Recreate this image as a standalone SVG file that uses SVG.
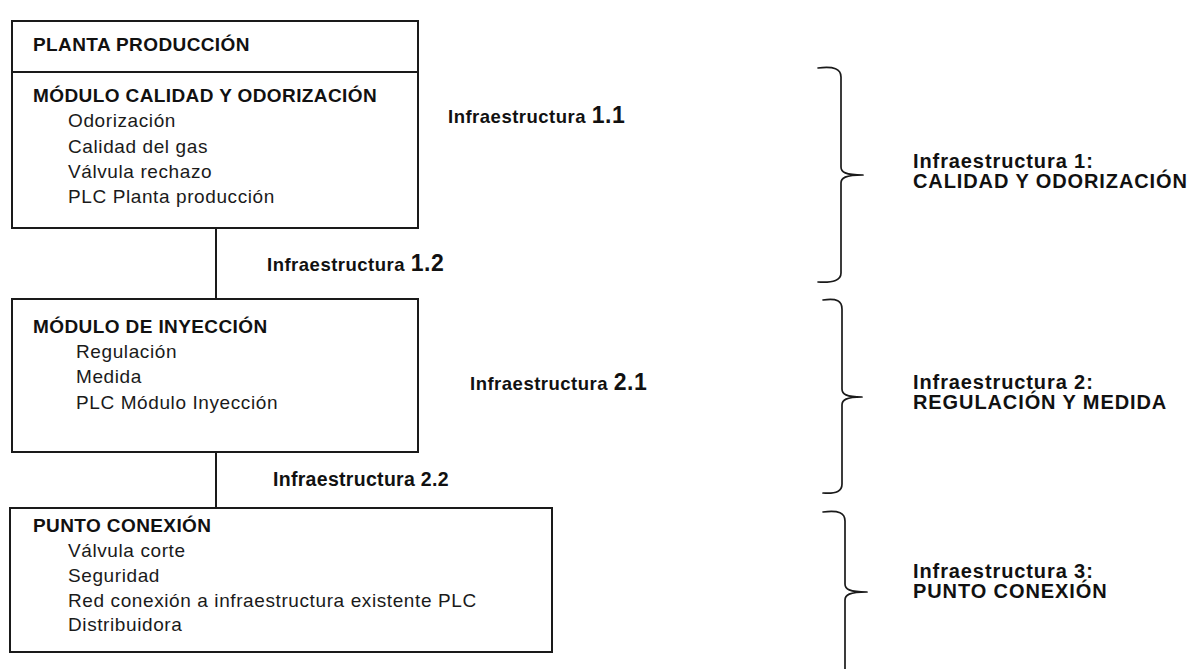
<svg xmlns="http://www.w3.org/2000/svg" width="1200" height="669" viewBox="0 0 1200 669">
<style>
.box{fill:#fff;stroke:#1a1a1a;stroke-width:2}
.ln{stroke:#1a1a1a;stroke-width:2;fill:none}
.br{stroke:#1a1a1a;stroke-width:1.7;fill:none;stroke-linecap:round}
.h{font-family:"Liberation Sans",Arial,sans-serif;font-weight:bold;font-size:19px;letter-spacing:0.4px;fill:#111}
.it{font-family:"Liberation Sans",Arial,sans-serif;font-size:19px;letter-spacing:0.6px;fill:#1a1a1a}
.lb{font-family:"Liberation Sans",Arial,sans-serif;font-weight:bold;font-size:18.5px;letter-spacing:0.5px;fill:#111}
.num{font-size:23px}
.rl{font-family:"Liberation Sans",Arial,sans-serif;font-weight:bold;font-size:20px;letter-spacing:0.9px;fill:#111}
</style>
<rect width="1200" height="669" fill="#fff"/>
<g id="connectors">
<line class="ln" x1="216" y1="228" x2="216" y2="299"/>
<line class="ln" x1="216" y1="452" x2="216" y2="508"/>
</g>
<g id="planta">
<rect class="box" x="12" y="21" width="406" height="207"/>
<line class="ln" x1="12" y1="72" x2="418" y2="72"/>
<text class="h" x="33" y="51">PLANTA PRODUCCIÓN</text>
<text class="h" x="33" y="102">MÓDULO CALIDAD Y ODORIZACIÓN</text>
<text class="it" x="68" y="127">Odorización</text>
<text class="it" x="68" y="153">Calidad del gas</text>
<text class="it" x="68" y="178">Válvula rechazo</text>
<text class="it" x="68" y="203">PLC Planta producción</text>
</g>
<g id="inyeccion">
<rect class="box" x="12" y="299" width="406" height="153"/>
<text class="h" x="33" y="333">MÓDULO DE INYECCIÓN</text>
<text class="it" x="76" y="358">Regulación</text>
<text class="it" x="76" y="383">Medida</text>
<text class="it" x="76" y="409">PLC Módulo Inyección</text>
</g>
<g id="punto">
<rect class="box" x="10" y="508" width="542" height="144"/>
<text class="h" x="33" y="532">PUNTO CONEXIÓN</text>
<text class="it" x="68" y="557">Válvula corte</text>
<text class="it" x="68" y="582">Seguridad</text>
<text class="it" x="68" y="607">Red conexión a infraestructura existente PLC</text>
<text class="it" x="68" y="631">Distribuidora</text>
</g>
<g id="labels">
<text class="lb" x="448" y="123">Infraestructura <tspan class="num">1.1</tspan></text>
<text class="lb" x="267" y="271">Infraestructura <tspan class="num">1.2</tspan></text>
<text class="lb" x="470" y="390">Infraestructura <tspan class="num">2.1</tspan></text>
<text class="lb" x="273" y="486" style="font-size:19.5px;letter-spacing:0.3px">Infraestructura 2.2</text>
</g>
<g id="infra1">
<path class="br" d="M818,68 C834,66 841,69 841,77 L841,167 C841,172 845,175 863,175 M863,175 C845,175 841,178 841,183 L841,273 C841,280 834,283 818,282"/>
<text class="rl" x="913" y="168">Infraestructura 1:</text>
<text class="rl" x="913" y="188">CALIDAD Y ODORIZACIÓN</text>
</g>
<g id="infra2">
<path class="br" d="M823,300 C837,298 842,301 842,309 L842,389 C842,394 846,397 862,397 M862,397 C846,397 842,400 842,405 L842,484 C842,491 837,494 823,493"/>
<text class="rl" x="913" y="389">Infraestructura 2:</text>
<text class="rl" x="913" y="409">REGULACIÓN Y MEDIDA</text>
</g>
<g id="infra3">
<path class="br" d="M823,512 C839,510 845,513 845,521 L845,584 C845,589 849,592 867,592 M867,592 C849,592 845,595 845,600 L845,672"/>
<text class="rl" x="913" y="578">Infraestructura 3:</text>
<text class="rl" x="913" y="598">PUNTO CONEXIÓN</text>
</g>
</svg>
